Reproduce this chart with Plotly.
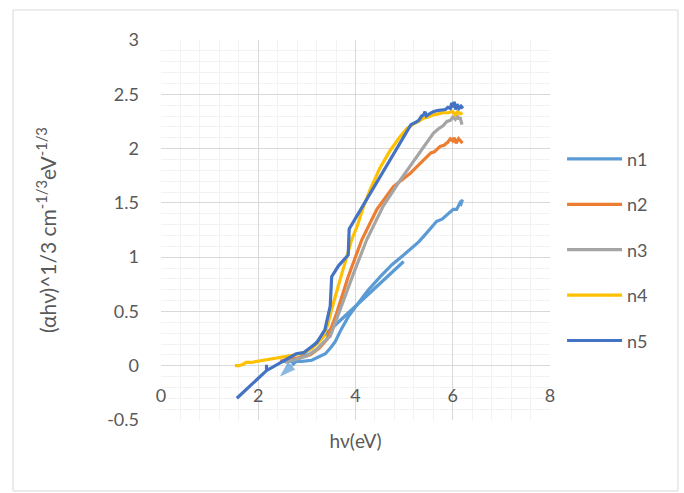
import plotly.graph_objects as go

# ---------------- data ----------------
n1_x = [2.50, 2.70, 2.90, 3.10, 3.25, 3.38, 3.48, 3.58, 3.70, 3.85, 4.03, 4.25, 4.51, 4.75, 4.99,
        5.15, 5.30, 5.42, 5.55, 5.67, 5.78, 5.88, 5.95, 6.01, 6.08, 6.12, 6.15, 6.17, 6.20]
n1_y = [0.04, 0.04, 0.04, 0.05, 0.08, 0.11, 0.16, 0.22, 0.33, 0.45, 0.56, 0.69, 0.82, 0.93, 1.02,
        1.08, 1.14, 1.20, 1.27, 1.33, 1.35, 1.39, 1.41, 1.44, 1.44, 1.47, 1.50, 1.49, 1.53]
# straight arrow drawn in the n1 colour
n1_arrow_x = [4.99, 2.42]
n1_arrow_y = [0.96, -0.11]

n2_x = [2.45, 2.60, 2.80, 3.07, 3.25, 3.41, 3.61, 3.85, 4.13, 4.44, 4.78, 5.12, 5.30, 5.47, 5.55,
        5.62, 5.68, 5.74, 5.82, 5.90, 5.95, 6.00, 6.03, 6.07, 6.12, 6.16, 6.20]
n2_y = [0.04, 0.06, 0.07, 0.10, 0.16, 0.24, 0.48, 0.82, 1.16, 1.44, 1.65, 1.77, 1.85, 1.93, 1.96,
        1.97, 2.00, 2.02, 2.03, 2.06, 2.09, 2.07, 2.10, 2.05, 2.09, 2.07, 2.05]

n3_x = [2.55, 2.80, 3.00, 3.20, 3.35, 3.48, 3.68, 3.96, 4.23, 4.57, 4.92, 5.26, 5.45, 5.60, 5.70,
        5.80, 5.88, 5.95, 6.00, 6.05, 6.08, 6.12, 6.15, 6.19]
n3_y = [0.03, 0.06, 0.09, 0.15, 0.22, 0.27, 0.52, 0.85, 1.16, 1.47, 1.71, 1.93, 2.05, 2.14, 2.18,
        2.21, 2.25, 2.26, 2.29, 2.27, 2.31, 2.27, 2.29, 2.22]

n4_x = [1.52, 1.60, 1.68, 1.75, 1.85, 2.00, 2.24, 2.50, 2.75, 2.93, 3.10, 3.25, 3.34, 3.43, 3.51,
        3.62, 3.72, 3.82, 3.92, 4.03, 4.16, 4.30, 4.50, 4.71, 4.90, 5.05, 5.20, 5.30, 5.40, 5.50,
        5.60, 5.70, 5.80, 5.90, 6.00, 6.05, 6.10, 6.15, 6.20]
n4_y = [0.00, 0.00, 0.01, 0.03, 0.03, 0.04, 0.06, 0.08, 0.10, 0.12, 0.16, 0.22, 0.27, 0.38, 0.52,
        0.68, 0.85, 1.00, 1.16, 1.28, 1.46, 1.62, 1.82, 1.98, 2.10, 2.18, 2.23, 2.25, 2.28, 2.29,
        2.31, 2.32, 2.33, 2.33, 2.34, 2.31, 2.34, 2.32, 2.33]

n5_x = [1.56, 2.17, 2.17, 2.17, 2.78, 2.93, 3.20, 3.37, 3.48, 3.51, 3.65, 3.85, 3.87, 5.14, 5.23,
        5.30, 5.36, 5.40, 5.43, 5.46, 5.52, 5.60, 5.68, 5.78, 5.85, 5.90, 5.95, 5.98, 6.01, 6.03,
        6.06, 6.09, 6.13, 6.17, 6.21]
n5_y = [-0.30, -0.045, 0.01, -0.045, 0.11, 0.12, 0.21, 0.33, 0.55, 0.82, 0.92, 1.02, 1.26, 2.22, 2.24,
        2.26, 2.30, 2.31, 2.34, 2.30, 2.32, 2.34, 2.35, 2.36, 2.36, 2.38, 2.37, 2.42, 2.38, 2.43,
        2.36, 2.41, 2.37, 2.39, 2.37]

series_names = ["n1", "n2", "n3", "n4", "n5"]
series_colors = ["#5B9BD5", "#ED7D31", "#A5A5A5", "#FFC000", "#4472C4"]

y_tickvals = [-0.5, 0, 0.5, 1, 1.5, 2, 2.5, 3]
y_ticktext = ["-0.5", "0", "0.5", "1", "1.5", "2", "2.5", "3"]
x_tickvals = [0, 2, 4, 6, 8]
x_ticktext = ["0", "2", "4", "6", "8"]

FONT = "Lato"
TXT = "#595959"
GRID = "#D9D9D9"
MINOR = "#F2F2F2"

fig = go.Figure()
all_x = [n1_x, n2_x, n3_x, n4_x, n5_x]
all_y = [n1_y, n2_y, n3_y, n4_y, n5_y]
for name, col, xs, ys in zip(series_names, series_colors, all_x, all_y):
    fig.add_trace(go.Scatter(x=xs, y=ys, mode="lines", name=name, legendgroup=name,
                             line=dict(color=col, width=3.2)))
    if name == "n1":
        fig.add_trace(go.Scatter(x=n1_arrow_x, y=n1_arrow_y, mode="lines+markers",
                                 legendgroup=name, showlegend=False, hoverinfo="skip",
                                 line=dict(color=col, width=3.2),
                                 marker=dict(symbol="arrow", angleref="previous",
                                             size=[0, 19], color=col)))

fig.update_layout(
    width=684, height=493,
    margin=dict(l=161, r=134, t=40, b=73),
    paper_bgcolor="white", plot_bgcolor="white",
    font=dict(family=FONT, color=TXT, size=17),
    showlegend=True,
    legend=dict(x=1.031, y=0.735, xanchor="left", yanchor="top",
                font=dict(family=FONT, size=18, color=TXT),
                itemwidth=55,
                tracegroupgap=19, bgcolor="rgba(0,0,0,0)"),
    xaxis=dict(range=[0, 8], tickvals=x_tickvals, ticktext=x_ticktext,
               showgrid=True, gridcolor=GRID, gridwidth=1,
               minor=dict(dtick=0.4, tick0=0, showgrid=True, gridcolor=MINOR, gridwidth=1),
               zeroline=False, showline=False, ticks="",
               anchor="free", position=54/380, ticklabelstandoff=17,
               tickfont=dict(family=FONT, size=18, color=TXT),
               title=dict(text="hν(eV)", standoff=29,
                          font=dict(family=FONT, size=19, color=TXT))),
    yaxis=dict(range=[-0.5, 3], tickvals=y_tickvals, ticktext=y_ticktext,
               showgrid=True, gridcolor=GRID, gridwidth=1,
               minor=dict(dtick=0.1, tick0=0, showgrid=True, gridcolor=MINOR, gridwidth=1),
               zeroline=False, showline=False, ticks="", ticklabelstandoff=21,
               tickfont=dict(family=FONT, size=18, color=TXT),
               title=dict(text="(αhν)^1/3 cm<sup>-1/3</sup>eV<sup>-1/3</sup>", standoff=44,
                          font=dict(family=FONT, size=21, color=TXT))),
)

# outer chart-area border
fig.add_shape(type="rect", xref="paper", yref="paper",
              x0=(13 - 161) / 389, x1=(678 - 161) / 389,
              y0=(420 - 491) / 380, y1=(420 - 10) / 380,
              line=dict(color=GRID, width=1), layer="below")

fig.write_html("out.html")
